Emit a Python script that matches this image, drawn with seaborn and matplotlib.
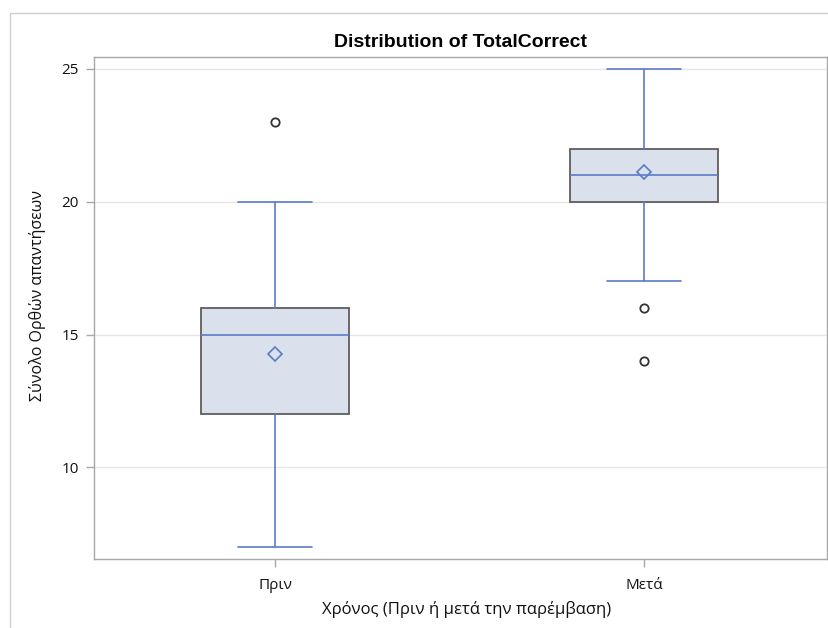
import matplotlib
matplotlib.use("Agg")
import matplotlib.pyplot as plt
from matplotlib.patches import Rectangle
import seaborn as sns

# Summary statistics of TotalCorrect per time point
groups = ["Πριν", "Μετά"]
whisker_low = [7, 17]
q1 = [12, 20]
median = [15, 21]
q3 = [16, 22]
whisker_high = [20, 25]
means = [14.27, 21.12]
outliers = [[23], [16, 14]]

sns.set_theme(style="white")
plt.rcParams["font.family"] = ["Open Sans", "DejaVu Sans"]

fig = plt.figure(figsize=(8.29, 6.28), dpi=100)
ax = fig.add_axes([94 / 829, 1 - 559 / 628, (827 - 94) / 829, (559 - 57) / 628])

# outer graph frame
fig.patches.append(Rectangle((10 / 829, -0.1), 1.2, 1 - 13 / 628 + 0.1,
                             transform=fig.transFigure, fill=False,
                             edgecolor="#cfcfcf", linewidth=1.0, zorder=0))

stats = []
for i, g in enumerate(groups):
    stats.append(dict(label=g, whislo=whisker_low[i], q1=q1[i], med=median[i],
                      q3=q3[i], whishi=whisker_high[i], mean=means[i],
                      fliers=outliers[i]))

blue = "#5a7dc6"
ax.bxp(stats, positions=range(len(groups)), widths=0.4, patch_artist=True,
       showmeans=True, showfliers=True,
       boxprops=dict(facecolor="#dae1ec", edgecolor="#5e5e5e", linewidth=1.3),
       medianprops=dict(color=blue, linewidth=1.2),
       whiskerprops=dict(color=blue, linewidth=1.2),
       capprops=dict(color=blue, linewidth=1.2),
       capwidths=0.2,
       meanprops=dict(marker="D", markerfacecolor="none", markeredgecolor=blue,
                      markersize=7.5, markeredgewidth=1.2),
       flierprops=dict(marker="o", markerfacecolor="none", markeredgecolor="#333333",
                       markersize=6, markeredgewidth=1.3))

ax.set_xlim(-0.49, 1.495)
ax.set_ylim(6.55, 25.45)
ax.set_yticks([10, 15, 20, 25])
ax.set_xticks(range(len(groups)))
ax.set_xticklabels(groups)
ax.yaxis.grid(True, color="#e6e6e6", linewidth=1.0)
ax.set_axisbelow(True)
for s in ax.spines.values():
    s.set_color("#a8a8a8")
    s.set_linewidth(1.0)
ax.tick_params(axis="both", direction="out", length=6, width=1, color="#a8a8a8",
               labelsize=11, labelcolor="#111111", pad=5)
ax.tick_params(axis="x", bottom=True, pad=8)
ax.tick_params(axis="y", left=True)

ax.set_title("Distribution of TotalCorrect", fontsize=14, fontweight="bold",
             color="black", family=["Liberation Sans", "DejaVu Sans"], pad=7)
ax.set_xlabel("Χρόνος (Πριν ή μετά την παρέμβαση)", fontsize=12, color="#111111")
ax.xaxis.set_label_coords(0.508, -0.083)
ax.set_ylabel("Σύνολο Ορθών απαντήσεων", fontsize=11.5, color="#111111")
ax.yaxis.set_label_coords(-0.066, 0.525)

fig.savefig("out.png", dpi=100)
